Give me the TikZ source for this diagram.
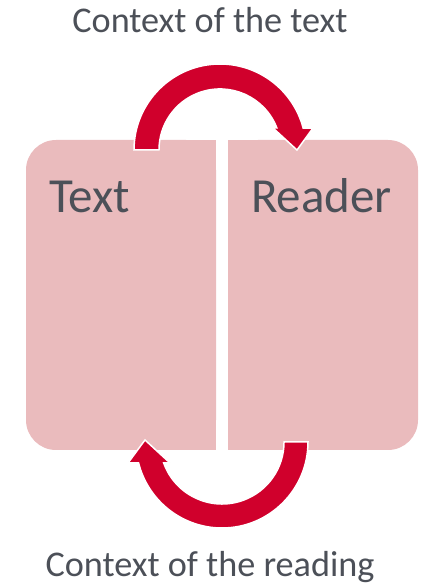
\documentclass[tikz,border=0pt]{standalone}
\usepackage{fontspec}
\setmainfont{Carlito}
\definecolor{boxfill}{RGB}{234,187,189}
\definecolor{arrowred}{RGB}{208,0,44}
\definecolor{txtgray}{RGB}{76,80,88}
\begin{document}
\begin{tikzpicture}[x=1pt,y=1pt,
  panel/.style={fill=boxfill,draw=none,rounded corners=30pt,minimum width=190pt,minimum height=310pt,inner sep=0pt},
  bigtext/.style={font=\fontsize{49}{54}\selectfont,text=txtgray,anchor=base west,inner sep=0pt},
  title/.style={font=\fontsize{36.2}{40}\selectfont,text=txtgray,anchor=base,inner sep=0pt},
  cycarrow/.style={fill=arrowred,draw=white,line width=1.5pt,line join=miter}]
\useasboundingbox (0,0) rectangle (426,587);
% panels
\node[panel] (textbox) at (121,292) {};
\fill[boxfill] (textbox.north) rectangle (textbox.south east);
\node[panel] (readerbox) at (323,292) {};
\fill[boxfill] (readerbox.north west) rectangle (readerbox.south);
% labels
\node[bigtext] (textlbl) at (49,374) {Text};
\node[bigtext] (readerlbl) at (251,374) {Reader};
\node[title] (toptitle) at (210,554) {Context of the text};
\node[title] (bottitle) at (210,10) {Context of the reading};
% top arrow: text -> reader
\path[cycarrow] (134,437) arc[start angle=180,end angle=14.8,radius=86pt]
  -- (313,459) -- (297,437) -- (273,459) -- (276.9,459)
  arc[start angle=21.1,end angle=180,radius=61pt] -- cycle;
% bottom arrow: reader -> text
\path[cycarrow] (308,145) arc[start angle=0,end angle=-165.9,radius=86pt]
  -- (128,124) -- (145,147) -- (170,124) -- (163.7,124)
  arc[start angle=-160.2,end angle=0,radius=62pt] -- cycle;
\end{tikzpicture}
\end{document}
